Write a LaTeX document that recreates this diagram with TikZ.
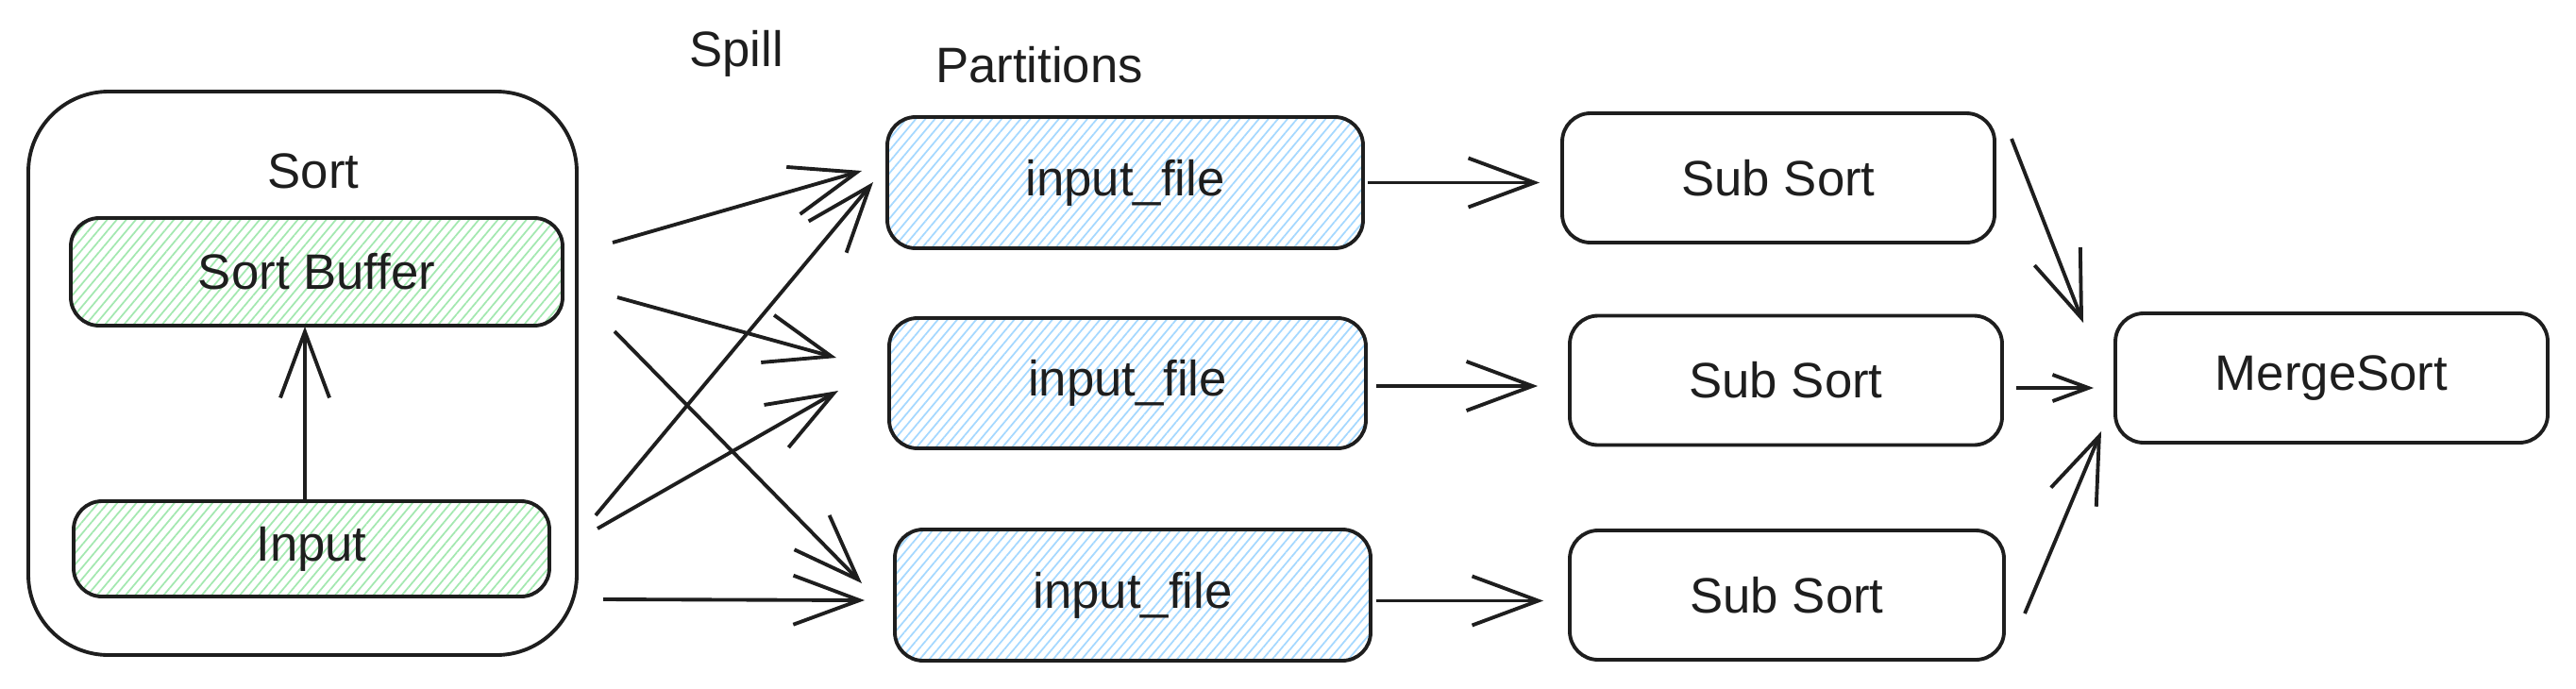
\documentclass[tikz,border=0pt]{standalone}
\usepackage{fontspec}
\setmainfont{Liberation Sans}
\usepackage{tikz}
\usetikzlibrary{arrows.meta,patterns.meta}
\usepackage{xcolor}

\definecolor{ink}{HTML}{1E1E1E}
\definecolor{hatchgreen}{HTML}{A3E8B0}
\definecolor{hatchblue}{HTML}{A5D8FF}

\tikzset{
  txt/.style={text=ink, font=\fontsize{15}{17}\selectfont},
  box/.style={txt, draw=ink, line width=1.1pt, rounded corners=0.3cm, minimum width=4.58cm, minimum height=1.37cm},
  greenbox/.style={box, pattern={Lines[angle=50,distance=2.2pt,line width=0.5pt]}, pattern color=hatchgreen},
  bluebox/.style={box, pattern={Lines[angle=50,distance=2.2pt,line width=0.5pt]}, pattern color=hatchblue},
  arr/.style={draw=ink, line width=1.1pt, -{Straight Barb[length=0.7cm,width=0.52cm]}},
  smallarr/.style={draw=ink, line width=1.1pt, -{Straight Barb[length=0.38cm,width=0.28cm]}}
}

\begin{document}
\begin{tikzpicture}
\useasboundingbox (0,0) rectangle (27.29,7.29);

% sort side
\node [box, rounded corners=0.85cm, minimum width=5.81cm, minimum height=5.97cm] (sort) at (3.205,3.335) {};
\node [txt] (sortlabel) at (3.32,5.48) {Sort};
\node [greenbox, minimum width=5.21cm, minimum height=1.14cm] (buffer) at (3.355,4.41) {Sort Buffer};
\node [greenbox, minimum width=5.04cm, minimum height=1.01cm] (input) at (3.30,1.475) {Input};
\draw [arr] ([xshift=-0.07cm]input.north) -- ([xshift=-0.07cm]input.north |- buffer.south);

\node [txt] (spill) at (7.80,6.72) {Spill};
\node [txt] (partlabel) at (11.01,6.60) {Partitions};

% partitions
\node [bluebox, minimum width=5.04cm, minimum height=1.39cm] (part1) at (11.92,5.355) {input\_file};
\node [bluebox, minimum width=5.05cm, minimum height=1.38cm] (part2) at (11.945,3.23) {input\_file};
\node [bluebox, minimum width=5.04cm, minimum height=1.39cm] (part3) at (12.00,0.985) {input\_file};

\node [box] (sub1) at (18.84,5.405) {Sub Sort};
\node [box] (sub2) at (18.92,3.26) {Sub Sort};
\node [box, minimum width=4.6cm] (sub3) at (18.93,0.985) {Sub Sort};
\node [box] (merge) at (24.70,3.285) {MergeSort};

% spill arrows
\coordinate (s1) at (6.49,4.72);
\coordinate (s2) at (6.54,4.14);
\coordinate (s3) at (6.51,3.78);
\coordinate (s4) at (6.31,1.83);
\coordinate (s5) at (6.33,1.69);
\coordinate (s6) at (6.39,0.94);
\coordinate (t1) at (9.13,5.48);
\coordinate (t2) at (8.86,3.50);
\coordinate (t3) at (9.13,1.11);
\coordinate (t4) at (9.25,5.36);
\coordinate (t5) at (8.88,3.15);
\coordinate (t6) at (9.16,0.93);
\foreach \i in {1,...,6}
  \draw [arr] (s\i) -- (t\i);

\draw [arr, shorten <=0.03cm, shorten >=0.22cm] (part1.east) -- (part1.east -| sub1.west);
\draw [arr, shorten <=0.09cm, shorten >=0.32cm] ([yshift=-0.03cm]part2.east) -- ([yshift=-0.03cm]part2.east -| sub2.west);
\draw [arr, shorten <=0.04cm, shorten >=0.26cm] ([yshift=-0.06cm]part3.east) -- ([yshift=-0.06cm]part3.east -| sub3.west);

% merge arrows
\coordinate (m1) at (21.31,5.82);
\coordinate (m2) at (21.36,3.18);
\coordinate (m3) at (21.45,0.79);
\coordinate (n1) at (22.07,3.87);
\coordinate (n2) at (22.18,3.18);
\coordinate (n3) at (22.26,2.72);
\draw [arr] (m1) -- (n1);
\draw [smallarr] (m2) -- (n2);
\draw [arr] (m3) -- (n3);
\end{tikzpicture}
\end{document}
